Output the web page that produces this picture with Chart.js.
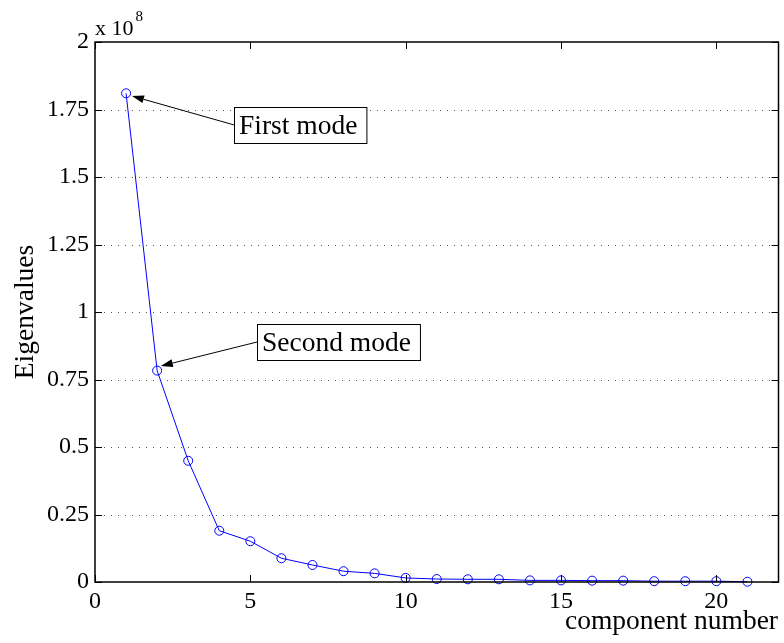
<!DOCTYPE html>
<html>
<head>
<meta charset="utf-8">
<script src="https://cdn.jsdelivr.net/npm/chart.js@4/dist/chart.umd.min.js"></script>
<style>
  html, body { margin: 0; padding: 0; background: #fff; }
  #wrap { width: 784px; height: 643px; position: relative; }
</style>
</head>
<body>
<div id="wrap"><canvas id="chart"></canvas></div>
<script>
'use strict';
// ---- data ----
const components = [1, 2, 3, 4, 5, 6, 7, 8, 9, 10, 11, 12, 13, 14, 15, 16, 17, 18, 19, 20, 21];
const eigenvalues = [1.81e8, 0.783e8, 0.449e8, 0.190e8, 0.151e8, 0.088e8, 0.063e8, 0.040e8, 0.032e8,
	0.015e8, 0.011e8, 0.010e8, 0.010e8, 0.006e8, 0.006e8, 0.005e8, 0.005e8, 0.003e8, 0.003e8, 0.003e8, 0.001e8];
const xTicks = [0, 5, 10, 15, 20];
const yTicks = [0, 0.25e8, 0.5e8, 0.75e8, 1e8, 1.25e8, 1.5e8, 1.75e8, 2e8];
const yTickLabels = ['0', '0.25', '0.5', '0.75', '1', '1.25', '1.5', '1.75', '2'];
// annotation texts, arrow tail (box side) and arrow tip, in data units
const noteLabels = ['First mode', 'Second mode'];
const noteTails = [[4.47, 1.693e8], [5.22, 0.889e8]];
const noteTips = [[1.19, 1.80e8], [2.12, 0.80e8]];

const serif = "Liberation Serif";
Chart.defaults.font.family = serif;

const frame = {
	id: 'frame',
	beforeDatasetsDraw(chart) {
		// dotted horizontal grid
		const ctx = chart.ctx, a = chart.chartArea, ys = chart.scales.y;
		ctx.save();
		ctx.strokeStyle = '#555';
		ctx.lineWidth = 1;
		ctx.setLineDash([1, 6]);
		ctx.beginPath();
		yTicks.forEach(v => {
			if (v === 0 || v === 2e8) return;
			let py = Math.round(ys.getPixelForValue(v)) + 0.5;
			ctx.moveTo(a.left + 2, py); ctx.lineTo(a.right, py);
		});
		ctx.stroke();
		ctx.restore();
	},
	afterDraw(chart) {
		const ctx = chart.ctx, a = chart.chartArea,
			xs = chart.scales.x, ys = chart.scales.y;
		ctx.save();
		// box + inward ticks
		ctx.strokeStyle = '#000';
		ctx.lineWidth = 1.5;
		ctx.strokeRect(a.left, a.top, a.right - a.left, a.bottom - a.top);
		ctx.lineWidth = 1;
		ctx.beginPath();
		xTicks.forEach(v => {
			let px = Math.round(xs.getPixelForValue(v)) + 0.5;
			ctx.moveTo(px, a.bottom); ctx.lineTo(px, a.bottom - 7);
			ctx.moveTo(px, a.top); ctx.lineTo(px, a.top + 7);
		});
		yTicks.forEach(v => {
			let py = Math.round(ys.getPixelForValue(v)) + 0.5;
			ctx.moveTo(a.left, py); ctx.lineTo(a.left + 7, py);
			ctx.moveTo(a.right, py); ctx.lineTo(a.right - 7, py);
		});
		ctx.stroke();

		// axis titles
		ctx.fillStyle = '#000';
		ctx.font = '27.5px ' + serif;
		ctx.textAlign = 'right';
		ctx.textBaseline = 'alphabetic';
		ctx.fillText('component number', 778, 629);
		ctx.save();
		ctx.translate(33, (a.top + a.bottom) / 2);
		ctx.rotate(-Math.PI / 2);
		ctx.textAlign = 'center';
		ctx.fillText('Eigenvalues', 0, 0);
		ctx.restore();
		// exponent
		ctx.textAlign = 'left';
		ctx.font = '22px ' + serif;
		ctx.fillText('x 10', a.left, 35);
		let w = ctx.measureText('x 10').width;
		ctx.font = '15px ' + serif;
		ctx.fillText('8', a.left + w + 2, 21);

		// annotations
		ctx.font = '27.5px ' + serif;
		noteLabels.forEach((txt, i) => {
			let tx = xs.getPixelForValue(noteTails[i][0]), ty = ys.getPixelForValue(noteTails[i][1]),
				hx = xs.getPixelForValue(noteTips[i][0]), hy = ys.getPixelForValue(noteTips[i][1]);
			// arrow
			let ang = Math.atan2(hy - ty, hx - tx), L = 12, W = 4;
			let bx = hx - L * Math.cos(ang), by = hy - L * Math.sin(ang);
			ctx.strokeStyle = '#000';
			ctx.lineWidth = 1;
			ctx.beginPath();
			ctx.moveTo(tx, ty); ctx.lineTo(bx, by);
			ctx.stroke();
			ctx.beginPath();
			ctx.moveTo(hx, hy);
			ctx.lineTo(bx + W * Math.sin(ang), by - W * Math.cos(ang));
			ctx.lineTo(bx - W * Math.sin(ang), by + W * Math.cos(ang));
			ctx.closePath();
			ctx.fill();
			// box
			let tw = ctx.measureText(txt).width, bw = tw + 14, bh = 36,
				top = Math.round(ty - bh / 2) + 0.5, left = Math.round(tx) + 0.5;
			ctx.fillStyle = '#fff';
			ctx.fillRect(left, top, bw, bh);
			ctx.strokeRect(left, top, bw, bh);
			ctx.fillStyle = '#000';
			ctx.fillText(txt, left + 4.5, top + 26);
		});
		ctx.restore();
	}
};

const createChart = () => {
	let cv = document.getElementById('chart').getContext('2d');
	new Chart(cv, {
		type: 'line',
		data: {
			datasets: [{
				data: components.map((c, i) => ({x: c, y: eigenvalues[i]})),
				borderColor: '#0000ff',
				borderWidth: 1,
				backgroundColor: 'rgba(0,0,0,0)',
				pointStyle: 'circle',
				pointRadius: 4.5,
				pointBorderColor: '#0000ff',
				pointBorderWidth: 1,
				pointBackgroundColor: 'rgba(0,0,0,0)',
				tension: 0,
				clip: false
			}]
		},
		options: {
			responsive: true,
			maintainAspectRatio: false,
			animation: false,
			devicePixelRatio: 1,
			layout: {padding: {left: 0, top: 42, right: 5, bottom: 0}},
			plugins: {legend: {display: false}, tooltip: {enabled: false}},
			scales: {
				x: {
					type: 'linear', min: 0, max: 22,
					afterBuildTicks: s => { s.ticks = xTicks.map(v => ({value: v})); },
					afterFit: s => { s.height = 61; },
					grid: {display: false, drawTicks: false},
					border: {display: false},
					ticks: {color: '#000', padding: 5, maxRotation: 0, autoSkip: false,
						font: {family: serif, size: 24}}
				},
				y: {
					type: 'linear', min: 0, max: 2e8,
					afterBuildTicks: s => { s.ticks = yTicks.map(v => ({value: v})); },
					afterFit: s => { s.width = 95; },
					grid: {display: false, drawTicks: false},
					border: {display: false},
					ticks: {
						color: '#000', padding: 6, autoSkip: false,
						font: {family: serif, size: 24},
						callback: v => yTickLabels[yTicks.indexOf(v)]
					}
				}
			}
		},
		plugins: [frame]
	});
};
window.addEventListener('load', () => createChart());
</script>
</body>
</html>
